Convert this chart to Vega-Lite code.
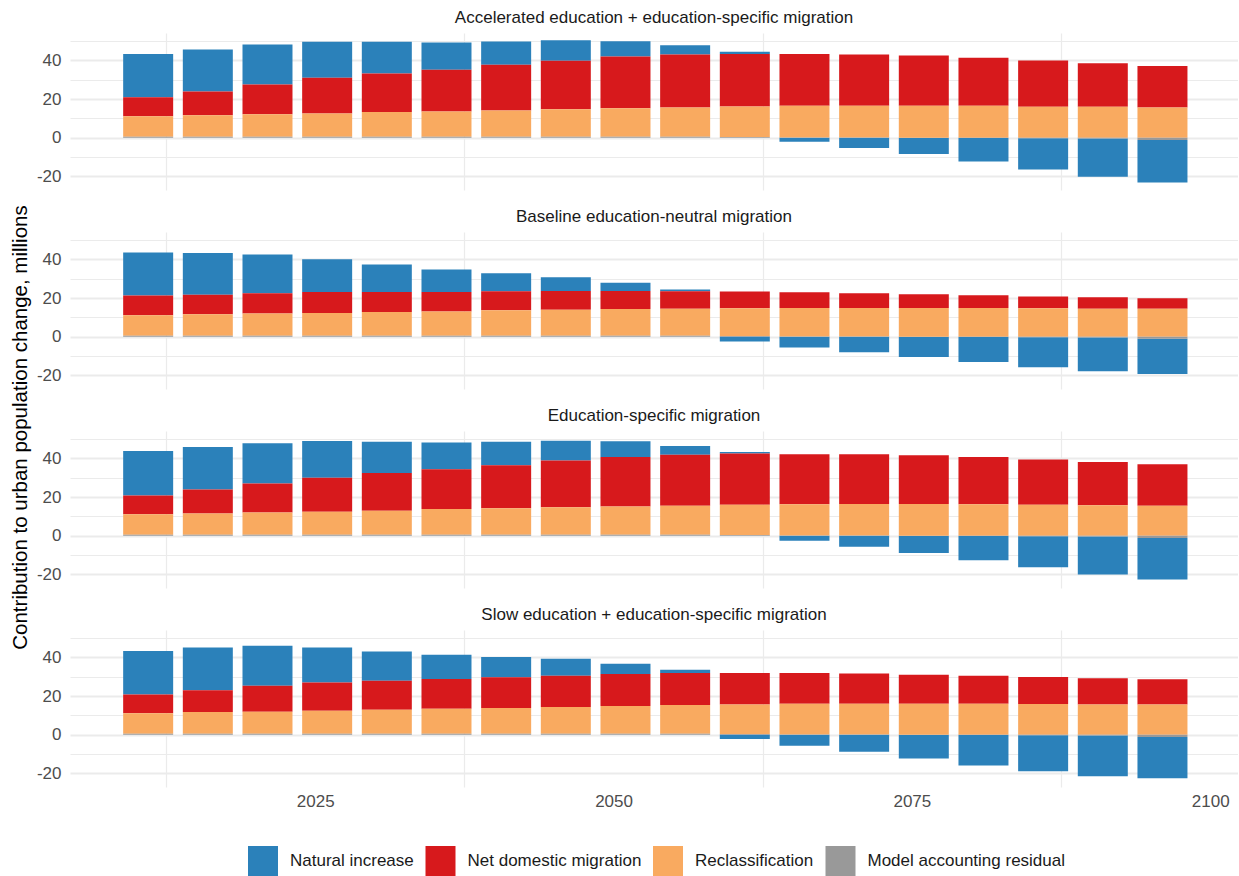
{
  "$schema": "https://vega.github.io/schema/vega-lite/v6.json",
  "background": "white",
  "padding": {"left": 10, "top": 9, "right": 0, "bottom": 0},
  "title": {
    "text": "Contribution to urban population change, millions",
    "orient": "left",
    "anchor": "middle",
    "font": "Liberation Sans",
    "fontSize": 20.5,
    "fontWeight": "normal",
    "color": "#000000",
    "offset": 5,
    "dx": 15
  },
  "data": {
    "values": [
      {"scenario": "Accelerated education + education-specific migration", "year": 2011, "natural": 22.4, "migration": 9.8, "reclass": 10.7, "residual": 0.5},
      {"scenario": "Accelerated education + education-specific migration", "year": 2016, "natural": 21.7, "migration": 12.3, "reclass": 11.2, "residual": 0.5},
      {"scenario": "Accelerated education + education-specific migration", "year": 2021, "natural": 20.7, "migration": 15.4, "reclass": 11.7, "residual": 0.5},
      {"scenario": "Accelerated education + education-specific migration", "year": 2026, "natural": 18.7, "migration": 18.4, "reclass": 12.1, "residual": 0.5},
      {"scenario": "Accelerated education + education-specific migration", "year": 2031, "natural": 16.4, "migration": 20.0, "reclass": 12.8, "residual": 0.5},
      {"scenario": "Accelerated education + education-specific migration", "year": 2036, "natural": 14.1, "migration": 21.6, "reclass": 13.1, "residual": 0.5},
      {"scenario": "Accelerated education + education-specific migration", "year": 2041, "natural": 12.0, "migration": 23.7, "reclass": 13.5, "residual": 0.6},
      {"scenario": "Accelerated education + education-specific migration", "year": 2046, "natural": 10.7, "migration": 25.1, "reclass": 14.1, "residual": 0.6},
      {"scenario": "Accelerated education + education-specific migration", "year": 2051, "natural": 7.9, "migration": 26.7, "reclass": 14.7, "residual": 0.6},
      {"scenario": "Accelerated education + education-specific migration", "year": 2056, "natural": 4.7, "migration": 27.4, "reclass": 15.2, "residual": 0.5},
      {"scenario": "Accelerated education + education-specific migration", "year": 2061, "natural": 1.1, "migration": 27.2, "reclass": 15.8, "residual": 0.4},
      {"scenario": "Accelerated education + education-specific migration", "year": 2066, "natural": -2.0, "migration": 26.8, "reclass": 16.4, "residual": 0.2},
      {"scenario": "Accelerated education + education-specific migration", "year": 2071, "natural": -5.3, "migration": 26.5, "reclass": 16.5, "residual": 0.1},
      {"scenario": "Accelerated education + education-specific migration", "year": 2076, "natural": -8.4, "migration": 26.0, "reclass": 16.6, "residual": 0.0},
      {"scenario": "Accelerated education + education-specific migration", "year": 2081, "natural": -12.1, "migration": 24.8, "reclass": 16.6, "residual": -0.1},
      {"scenario": "Accelerated education + education-specific migration", "year": 2086, "natural": -16.2, "migration": 23.9, "reclass": 16.1, "residual": -0.2},
      {"scenario": "Accelerated education + education-specific migration", "year": 2091, "natural": -19.8, "migration": 22.5, "reclass": 16.1, "residual": -0.3},
      {"scenario": "Accelerated education + education-specific migration", "year": 2096, "natural": -21.9, "migration": 21.4, "reclass": 15.7, "residual": -1.2},

      {"scenario": "Baseline education-neutral migration", "year": 2011, "natural": 22.3, "migration": 10.2, "reclass": 10.6, "residual": 0.5},
      {"scenario": "Baseline education-neutral migration", "year": 2016, "natural": 21.6, "migration": 10.2, "reclass": 11.1, "residual": 0.5},
      {"scenario": "Baseline education-neutral migration", "year": 2021, "natural": 20.1, "migration": 10.4, "reclass": 11.6, "residual": 0.5},
      {"scenario": "Baseline education-neutral migration", "year": 2026, "natural": 16.9, "migration": 10.9, "reclass": 11.8, "residual": 0.5},
      {"scenario": "Baseline education-neutral migration", "year": 2031, "natural": 14.2, "migration": 10.4, "reclass": 12.3, "residual": 0.5},
      {"scenario": "Baseline education-neutral migration", "year": 2036, "natural": 11.6, "migration": 10.1, "reclass": 12.6, "residual": 0.5},
      {"scenario": "Baseline education-neutral migration", "year": 2041, "natural": 9.4, "migration": 9.8, "reclass": 13.1, "residual": 0.6},
      {"scenario": "Baseline education-neutral migration", "year": 2046, "natural": 7.1, "migration": 9.7, "reclass": 13.4, "residual": 0.6},
      {"scenario": "Baseline education-neutral migration", "year": 2051, "natural": 4.3, "migration": 9.3, "reclass": 13.8, "residual": 0.6},
      {"scenario": "Baseline education-neutral migration", "year": 2056, "natural": 0.9, "migration": 9.0, "reclass": 14.0, "residual": 0.5},
      {"scenario": "Baseline education-neutral migration", "year": 2061, "natural": -2.4, "migration": 8.7, "reclass": 14.3, "residual": 0.4},
      {"scenario": "Baseline education-neutral migration", "year": 2066, "natural": -5.5, "migration": 8.1, "reclass": 14.7, "residual": 0.2},
      {"scenario": "Baseline education-neutral migration", "year": 2071, "natural": -8.0, "migration": 7.6, "reclass": 14.8, "residual": 0.1},
      {"scenario": "Baseline education-neutral migration", "year": 2076, "natural": -10.4, "migration": 7.1, "reclass": 14.9, "residual": 0.0},
      {"scenario": "Baseline education-neutral migration", "year": 2081, "natural": -13.0, "migration": 6.6, "reclass": 14.9, "residual": -0.1},
      {"scenario": "Baseline education-neutral migration", "year": 2086, "natural": -15.5, "migration": 6.2, "reclass": 14.7, "residual": -0.2},
      {"scenario": "Baseline education-neutral migration", "year": 2091, "natural": -17.5, "migration": 5.9, "reclass": 14.5, "residual": -0.3},
      {"scenario": "Baseline education-neutral migration", "year": 2096, "natural": -18.2, "migration": 5.4, "reclass": 14.5, "residual": -1.0},

      {"scenario": "Education-specific migration", "year": 2011, "natural": 22.9, "migration": 9.7, "reclass": 10.7, "residual": 0.5},
      {"scenario": "Education-specific migration", "year": 2016, "natural": 22.0, "migration": 12.4, "reclass": 11.0, "residual": 0.5},
      {"scenario": "Education-specific migration", "year": 2021, "natural": 20.7, "migration": 15.1, "reclass": 11.5, "residual": 0.5},
      {"scenario": "Education-specific migration", "year": 2026, "natural": 19.0, "migration": 17.6, "reclass": 11.9, "residual": 0.5},
      {"scenario": "Education-specific migration", "year": 2031, "natural": 16.2, "migration": 19.6, "reclass": 12.4, "residual": 0.5},
      {"scenario": "Education-specific migration", "year": 2036, "natural": 13.8, "migration": 20.6, "reclass": 13.3, "residual": 0.5},
      {"scenario": "Education-specific migration", "year": 2041, "natural": 12.2, "migration": 22.2, "reclass": 13.7, "residual": 0.6},
      {"scenario": "Education-specific migration", "year": 2046, "natural": 10.3, "migration": 24.1, "reclass": 14.2, "residual": 0.6},
      {"scenario": "Education-specific migration", "year": 2051, "natural": 8.2, "migration": 25.5, "reclass": 14.6, "residual": 0.6},
      {"scenario": "Education-specific migration", "year": 2056, "natural": 4.6, "migration": 26.4, "reclass": 15.0, "residual": 0.5},
      {"scenario": "Education-specific migration", "year": 2061, "natural": 0.7, "migration": 26.6, "reclass": 15.6, "residual": 0.4},
      {"scenario": "Education-specific migration", "year": 2066, "natural": -2.6, "migration": 25.9, "reclass": 16.1, "residual": 0.2},
      {"scenario": "Education-specific migration", "year": 2071, "natural": -5.7, "migration": 25.7, "reclass": 16.4, "residual": 0.1},
      {"scenario": "Education-specific migration", "year": 2076, "natural": -8.9, "migration": 25.2, "reclass": 16.5, "residual": 0.0},
      {"scenario": "Education-specific migration", "year": 2081, "natural": -12.6, "migration": 24.5, "reclass": 16.3, "residual": -0.1},
      {"scenario": "Education-specific migration", "year": 2086, "natural": -16.1, "migration": 23.5, "reclass": 16.0, "residual": -0.2},
      {"scenario": "Education-specific migration", "year": 2091, "natural": -19.7, "migration": 22.4, "reclass": 15.8, "residual": -0.3},
      {"scenario": "Education-specific migration", "year": 2096, "natural": -21.4, "migration": 21.5, "reclass": 15.5, "residual": -1.2},

      {"scenario": "Slow education + education-specific migration", "year": 2011, "natural": 22.6, "migration": 9.6, "reclass": 10.7, "residual": 0.5},
      {"scenario": "Slow education + education-specific migration", "year": 2016, "natural": 22.2, "migration": 11.2, "reclass": 11.3, "residual": 0.5},
      {"scenario": "Slow education + education-specific migration", "year": 2021, "natural": 20.6, "migration": 13.5, "reclass": 11.4, "residual": 0.5},
      {"scenario": "Slow education + education-specific migration", "year": 2026, "natural": 18.2, "migration": 14.5, "reclass": 12.0, "residual": 0.5},
      {"scenario": "Slow education + education-specific migration", "year": 2031, "natural": 15.1, "migration": 15.0, "reclass": 12.5, "residual": 0.5},
      {"scenario": "Slow education + education-specific migration", "year": 2036, "natural": 12.5, "migration": 15.4, "reclass": 13.0, "residual": 0.5},
      {"scenario": "Slow education + education-specific migration", "year": 2041, "natural": 10.5, "migration": 16.0, "reclass": 13.2, "residual": 0.6},
      {"scenario": "Slow education + education-specific migration", "year": 2046, "natural": 8.7, "migration": 16.2, "reclass": 13.8, "residual": 0.6},
      {"scenario": "Slow education + education-specific migration", "year": 2051, "natural": 5.2, "migration": 16.6, "reclass": 14.3, "residual": 0.6},
      {"scenario": "Slow education + education-specific migration", "year": 2056, "natural": 1.6, "migration": 16.6, "reclass": 14.9, "residual": 0.5},
      {"scenario": "Slow education + education-specific migration", "year": 2061, "natural": -2.2, "migration": 16.3, "reclass": 15.3, "residual": 0.4},
      {"scenario": "Slow education + education-specific migration", "year": 2066, "natural": -5.7, "migration": 15.9, "reclass": 15.9, "residual": 0.2},
      {"scenario": "Slow education + education-specific migration", "year": 2071, "natural": -8.8, "migration": 15.6, "reclass": 16.0, "residual": 0.1},
      {"scenario": "Slow education + education-specific migration", "year": 2076, "natural": -12.3, "migration": 15.0, "reclass": 16.1, "residual": 0.0},
      {"scenario": "Slow education + education-specific migration", "year": 2081, "natural": -15.8, "migration": 14.5, "reclass": 16.1, "residual": -0.1},
      {"scenario": "Slow education + education-specific migration", "year": 2086, "natural": -18.7, "migration": 14.0, "reclass": 15.9, "residual": -0.2},
      {"scenario": "Slow education + education-specific migration", "year": 2091, "natural": -21.1, "migration": 13.5, "reclass": 15.7, "residual": -0.3},
      {"scenario": "Slow education + education-specific migration", "year": 2096, "natural": -21.3, "migration": 13.0, "reclass": 15.7, "residual": -1.2}
    ]
  },
  "transform": [
    {"fold": ["natural", "migration", "reclass", "residual"], "as": ["component", "value"]},
    {"calculate": "indexof(['residual', 'reclass', 'migration', 'natural'], datum.component)", "as": "stackOrder"}
  ],
  "facet": {
    "field": "scenario",
    "type": "nominal",
    "sort": [
      "Accelerated education + education-specific migration",
      "Baseline education-neutral migration",
      "Education-specific migration",
      "Slow education + education-specific migration"
    ],
    "header": {
      "title": null,
      "labelFont": "Liberation Sans",
      "labelFontSize": 17,
      "labelColor": "#1a1a1a",
      "labelPadding": 6
    }
  },
  "columns": 1,
  "spacing": 18,
  "spec": {
    "width": 1168,
    "height": 157,
    "mark": {"type": "bar", "size": 50, "orient": "vertical"},
    "encoding": {
      "x": {
        "field": "year",
        "type": "quantitative",
        "scale": {"domain": [2004.45, 2102.33], "nice": false, "zero": false, "padding": 0},
        "axis": {
          "title": null,
          "values": [2012.5, 2025, 2037.5, 2050, 2062.5, 2075, 2087.5, 2100],
          "labelExpr": "datum.value % 25 === 0 ? '' + datum.value : ''",
          "labelFont": "Liberation Sans",
          "labelFontSize": 17,
          "labelColor": "#4d4d4d",
          "labelPadding": 6,
          "ticks": false,
          "domain": false,
          "grid": true,
          "gridColor": "#ebebeb",
          "gridWidth": 1.2,
          "gridOpacity": {"condition": {"test": "datum.value % 25 === 0", "value": 0}, "value": 1}
        }
      },
      "y": {
        "field": "value",
        "type": "quantitative",
        "stack": "zero",
        "scale": {"domain": [-27, 54.2], "nice": false, "zero": false},
        "axis": {
          "title": null,
          "values": [-20, -10, 0, 10, 20, 30, 40, 50],
          "labelExpr": "datum.value % 20 === 0 ? '' + datum.value : ''",
          "labelFont": "Liberation Sans",
          "labelFontSize": 17,
          "labelColor": "#4d4d4d",
          "labelPadding": 9,
          "ticks": false,
          "domain": false,
          "grid": true,
          "gridColor": "#ebebeb",
          "gridWidth": {"condition": {"test": "datum.value % 20 === 0", "value": 2}, "value": 1}
        }
      },
      "color": {
        "field": "component",
        "type": "nominal",
        "scale": {
          "domain": ["natural", "migration", "reclass", "residual"],
          "range": ["#2b81ba", "#d7191c", "#f9aa60", "#999999"]
        },
        "legend": {
          "title": null,
          "orient": "none",
          "legendX": 178,
          "legendY": 813,
          "direction": "horizontal",
          "columns": 4,
          "symbolType": "square",
          "symbolSize": 900,
          "symbolStrokeWidth": 0,
          "symbolOpacity": 1,
          "labelFont": "Liberation Sans",
          "labelFontSize": 17,
          "labelColor": "#1a1a1a",
          "labelOffset": 12,
          "columnPadding": 11.5,
          "labelLimit": 0,
          "labelExpr": "{'natural': 'Natural increase', 'migration': 'Net domestic migration', 'reclass': 'Reclassification', 'residual': 'Model accounting residual'}[datum.value]"
        }
      },
      "order": {"field": "stackOrder", "type": "quantitative"}
    }
  },
  "config": {
    "view": {"stroke": null},
    "font": "Liberation Sans"
  }
}
